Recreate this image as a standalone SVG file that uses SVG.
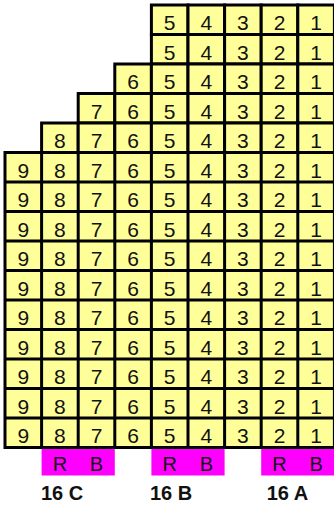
<svg xmlns="http://www.w3.org/2000/svg" width="334" height="510" viewBox="0 0 334 510">
<style>
.c{fill:#FFFF99;stroke:#000;stroke-width:3}
.m{fill:#FF00FF}
.n{font-family:"Liberation Sans",Arial,sans-serif;font-size:21px;fill:#111;text-anchor:middle}
.r{font-family:"Liberation Sans",Arial,sans-serif;font-size:20px;fill:#111;text-anchor:middle}
.l{font-family:"Liberation Sans",Arial,sans-serif;font-size:20px;font-weight:bold;fill:#111;text-anchor:middle}
</style>
<rect width="334" height="510" fill="#fff"/>
<g id="tags">
<rect class="m" x="41.6" y="447.5" width="73.2" height="28"/>
<rect class="m" x="151.4" y="447.5" width="73.2" height="28"/>
<rect class="m" x="261.2" y="447.5" width="73.2" height="28"/>
<text class="r" x="59.9" y="470.7">R</text><text class="r" x="96.5" y="470.7">B</text>
<text class="r" x="169.7" y="470.7">R</text><text class="r" x="206.3" y="470.7">B</text>
<text class="r" x="279.5" y="470.7">R</text><text class="r" x="316.1" y="470.7">B</text>
</g>
<g id="grid">
<rect class="c" x="151.4" y="5" width="36.6" height="29.5"/><rect class="c" x="188" y="5" width="36.6" height="29.5"/><rect class="c" x="224.6" y="5" width="36.6" height="29.5"/><rect class="c" x="261.2" y="5" width="36.6" height="29.5"/><rect class="c" x="297.8" y="5" width="36.6" height="29.5"/>
<rect class="c" x="151.4" y="34.5" width="36.6" height="29.5"/><rect class="c" x="188" y="34.5" width="36.6" height="29.5"/><rect class="c" x="224.6" y="34.5" width="36.6" height="29.5"/><rect class="c" x="261.2" y="34.5" width="36.6" height="29.5"/><rect class="c" x="297.8" y="34.5" width="36.6" height="29.5"/>
<rect class="c" x="114.8" y="64" width="36.6" height="29.5"/><rect class="c" x="151.4" y="64" width="36.6" height="29.5"/><rect class="c" x="188" y="64" width="36.6" height="29.5"/><rect class="c" x="224.6" y="64" width="36.6" height="29.5"/><rect class="c" x="261.2" y="64" width="36.6" height="29.5"/><rect class="c" x="297.8" y="64" width="36.6" height="29.5"/>
<rect class="c" x="78.2" y="93.5" width="36.6" height="29.5"/><rect class="c" x="114.8" y="93.5" width="36.6" height="29.5"/><rect class="c" x="151.4" y="93.5" width="36.6" height="29.5"/><rect class="c" x="188" y="93.5" width="36.6" height="29.5"/><rect class="c" x="224.6" y="93.5" width="36.6" height="29.5"/><rect class="c" x="261.2" y="93.5" width="36.6" height="29.5"/><rect class="c" x="297.8" y="93.5" width="36.6" height="29.5"/>
<rect class="c" x="41.6" y="123" width="36.6" height="29.5"/><rect class="c" x="78.2" y="123" width="36.6" height="29.5"/><rect class="c" x="114.8" y="123" width="36.6" height="29.5"/><rect class="c" x="151.4" y="123" width="36.6" height="29.5"/><rect class="c" x="188" y="123" width="36.6" height="29.5"/><rect class="c" x="224.6" y="123" width="36.6" height="29.5"/><rect class="c" x="261.2" y="123" width="36.6" height="29.5"/><rect class="c" x="297.8" y="123" width="36.6" height="29.5"/>
<rect class="c" x="5" y="152.5" width="329.4" height="295"/>
<g stroke="#000" stroke-width="3">
<line x1="41.6" y1="152.5" x2="41.6" y2="447.5"/><line x1="78.2" y1="152.5" x2="78.2" y2="447.5"/><line x1="114.8" y1="152.5" x2="114.8" y2="447.5"/><line x1="151.4" y1="152.5" x2="151.4" y2="447.5"/><line x1="188" y1="152.5" x2="188" y2="447.5"/><line x1="224.6" y1="152.5" x2="224.6" y2="447.5"/><line x1="261.2" y1="152.5" x2="261.2" y2="447.5"/><line x1="297.8" y1="152.5" x2="297.8" y2="447.5"/>
<line x1="5" y1="182" x2="334.4" y2="182"/><line x1="5" y1="211.5" x2="334.4" y2="211.5"/><line x1="5" y1="241" x2="334.4" y2="241"/><line x1="5" y1="270.5" x2="334.4" y2="270.5"/><line x1="5" y1="300" x2="334.4" y2="300"/><line x1="5" y1="329.5" x2="334.4" y2="329.5"/><line x1="5" y1="359" x2="334.4" y2="359"/><line x1="5" y1="388.5" x2="334.4" y2="388.5"/><line x1="5" y1="418" x2="334.4" y2="418"/>
</g>
</g>
<g id="numbers">
<text class="n" x="169.7" y="30">5</text><text class="n" x="206.3" y="30">4</text><text class="n" x="242.9" y="30">3</text><text class="n" x="279.5" y="30">2</text><text class="n" x="316.1" y="30">1</text>
<text class="n" x="169.7" y="59.5">5</text><text class="n" x="206.3" y="59.5">4</text><text class="n" x="242.9" y="59.5">3</text><text class="n" x="279.5" y="59.5">2</text><text class="n" x="316.1" y="59.5">1</text>
<text class="n" x="133.1" y="89">6</text><text class="n" x="169.7" y="89">5</text><text class="n" x="206.3" y="89">4</text><text class="n" x="242.9" y="89">3</text><text class="n" x="279.5" y="89">2</text><text class="n" x="316.1" y="89">1</text>
<text class="n" x="96.5" y="118.5">7</text><text class="n" x="133.1" y="118.5">6</text><text class="n" x="169.7" y="118.5">5</text><text class="n" x="206.3" y="118.5">4</text><text class="n" x="242.9" y="118.5">3</text><text class="n" x="279.5" y="118.5">2</text><text class="n" x="316.1" y="118.5">1</text>
<text class="n" x="59.9" y="148">8</text><text class="n" x="96.5" y="148">7</text><text class="n" x="133.1" y="148">6</text><text class="n" x="169.7" y="148">5</text><text class="n" x="206.3" y="148">4</text><text class="n" x="242.9" y="148">3</text><text class="n" x="279.5" y="148">2</text><text class="n" x="316.1" y="148">1</text>
<text class="n" x="23.3" y="177.5">9</text><text class="n" x="59.9" y="177.5">8</text><text class="n" x="96.5" y="177.5">7</text><text class="n" x="133.1" y="177.5">6</text><text class="n" x="169.7" y="177.5">5</text><text class="n" x="206.3" y="177.5">4</text><text class="n" x="242.9" y="177.5">3</text><text class="n" x="279.5" y="177.5">2</text><text class="n" x="316.1" y="177.5">1</text>
<text class="n" x="23.3" y="207">9</text><text class="n" x="59.9" y="207">8</text><text class="n" x="96.5" y="207">7</text><text class="n" x="133.1" y="207">6</text><text class="n" x="169.7" y="207">5</text><text class="n" x="206.3" y="207">4</text><text class="n" x="242.9" y="207">3</text><text class="n" x="279.5" y="207">2</text><text class="n" x="316.1" y="207">1</text>
<text class="n" x="23.3" y="236.5">9</text><text class="n" x="59.9" y="236.5">8</text><text class="n" x="96.5" y="236.5">7</text><text class="n" x="133.1" y="236.5">6</text><text class="n" x="169.7" y="236.5">5</text><text class="n" x="206.3" y="236.5">4</text><text class="n" x="242.9" y="236.5">3</text><text class="n" x="279.5" y="236.5">2</text><text class="n" x="316.1" y="236.5">1</text>
<text class="n" x="23.3" y="266">9</text><text class="n" x="59.9" y="266">8</text><text class="n" x="96.5" y="266">7</text><text class="n" x="133.1" y="266">6</text><text class="n" x="169.7" y="266">5</text><text class="n" x="206.3" y="266">4</text><text class="n" x="242.9" y="266">3</text><text class="n" x="279.5" y="266">2</text><text class="n" x="316.1" y="266">1</text>
<text class="n" x="23.3" y="295.5">9</text><text class="n" x="59.9" y="295.5">8</text><text class="n" x="96.5" y="295.5">7</text><text class="n" x="133.1" y="295.5">6</text><text class="n" x="169.7" y="295.5">5</text><text class="n" x="206.3" y="295.5">4</text><text class="n" x="242.9" y="295.5">3</text><text class="n" x="279.5" y="295.5">2</text><text class="n" x="316.1" y="295.5">1</text>
<text class="n" x="23.3" y="325">9</text><text class="n" x="59.9" y="325">8</text><text class="n" x="96.5" y="325">7</text><text class="n" x="133.1" y="325">6</text><text class="n" x="169.7" y="325">5</text><text class="n" x="206.3" y="325">4</text><text class="n" x="242.9" y="325">3</text><text class="n" x="279.5" y="325">2</text><text class="n" x="316.1" y="325">1</text>
<text class="n" x="23.3" y="354.5">9</text><text class="n" x="59.9" y="354.5">8</text><text class="n" x="96.5" y="354.5">7</text><text class="n" x="133.1" y="354.5">6</text><text class="n" x="169.7" y="354.5">5</text><text class="n" x="206.3" y="354.5">4</text><text class="n" x="242.9" y="354.5">3</text><text class="n" x="279.5" y="354.5">2</text><text class="n" x="316.1" y="354.5">1</text>
<text class="n" x="23.3" y="384">9</text><text class="n" x="59.9" y="384">8</text><text class="n" x="96.5" y="384">7</text><text class="n" x="133.1" y="384">6</text><text class="n" x="169.7" y="384">5</text><text class="n" x="206.3" y="384">4</text><text class="n" x="242.9" y="384">3</text><text class="n" x="279.5" y="384">2</text><text class="n" x="316.1" y="384">1</text>
<text class="n" x="23.3" y="413.5">9</text><text class="n" x="59.9" y="413.5">8</text><text class="n" x="96.5" y="413.5">7</text><text class="n" x="133.1" y="413.5">6</text><text class="n" x="169.7" y="413.5">5</text><text class="n" x="206.3" y="413.5">4</text><text class="n" x="242.9" y="413.5">3</text><text class="n" x="279.5" y="413.5">2</text><text class="n" x="316.1" y="413.5">1</text>
<text class="n" x="23.3" y="443">9</text><text class="n" x="59.9" y="443">8</text><text class="n" x="96.5" y="443">7</text><text class="n" x="133.1" y="443">6</text><text class="n" x="169.7" y="443">5</text><text class="n" x="206.3" y="443">4</text><text class="n" x="242.9" y="443">3</text><text class="n" x="279.5" y="443">2</text><text class="n" x="316.1" y="443">1</text>
</g>
<g id="labels">
<text class="l" x="62" y="500">16 C</text>
<text class="l" x="171" y="500">16 B</text>
<text class="l" x="287.5" y="500">16 A</text>
</g>
</svg>
